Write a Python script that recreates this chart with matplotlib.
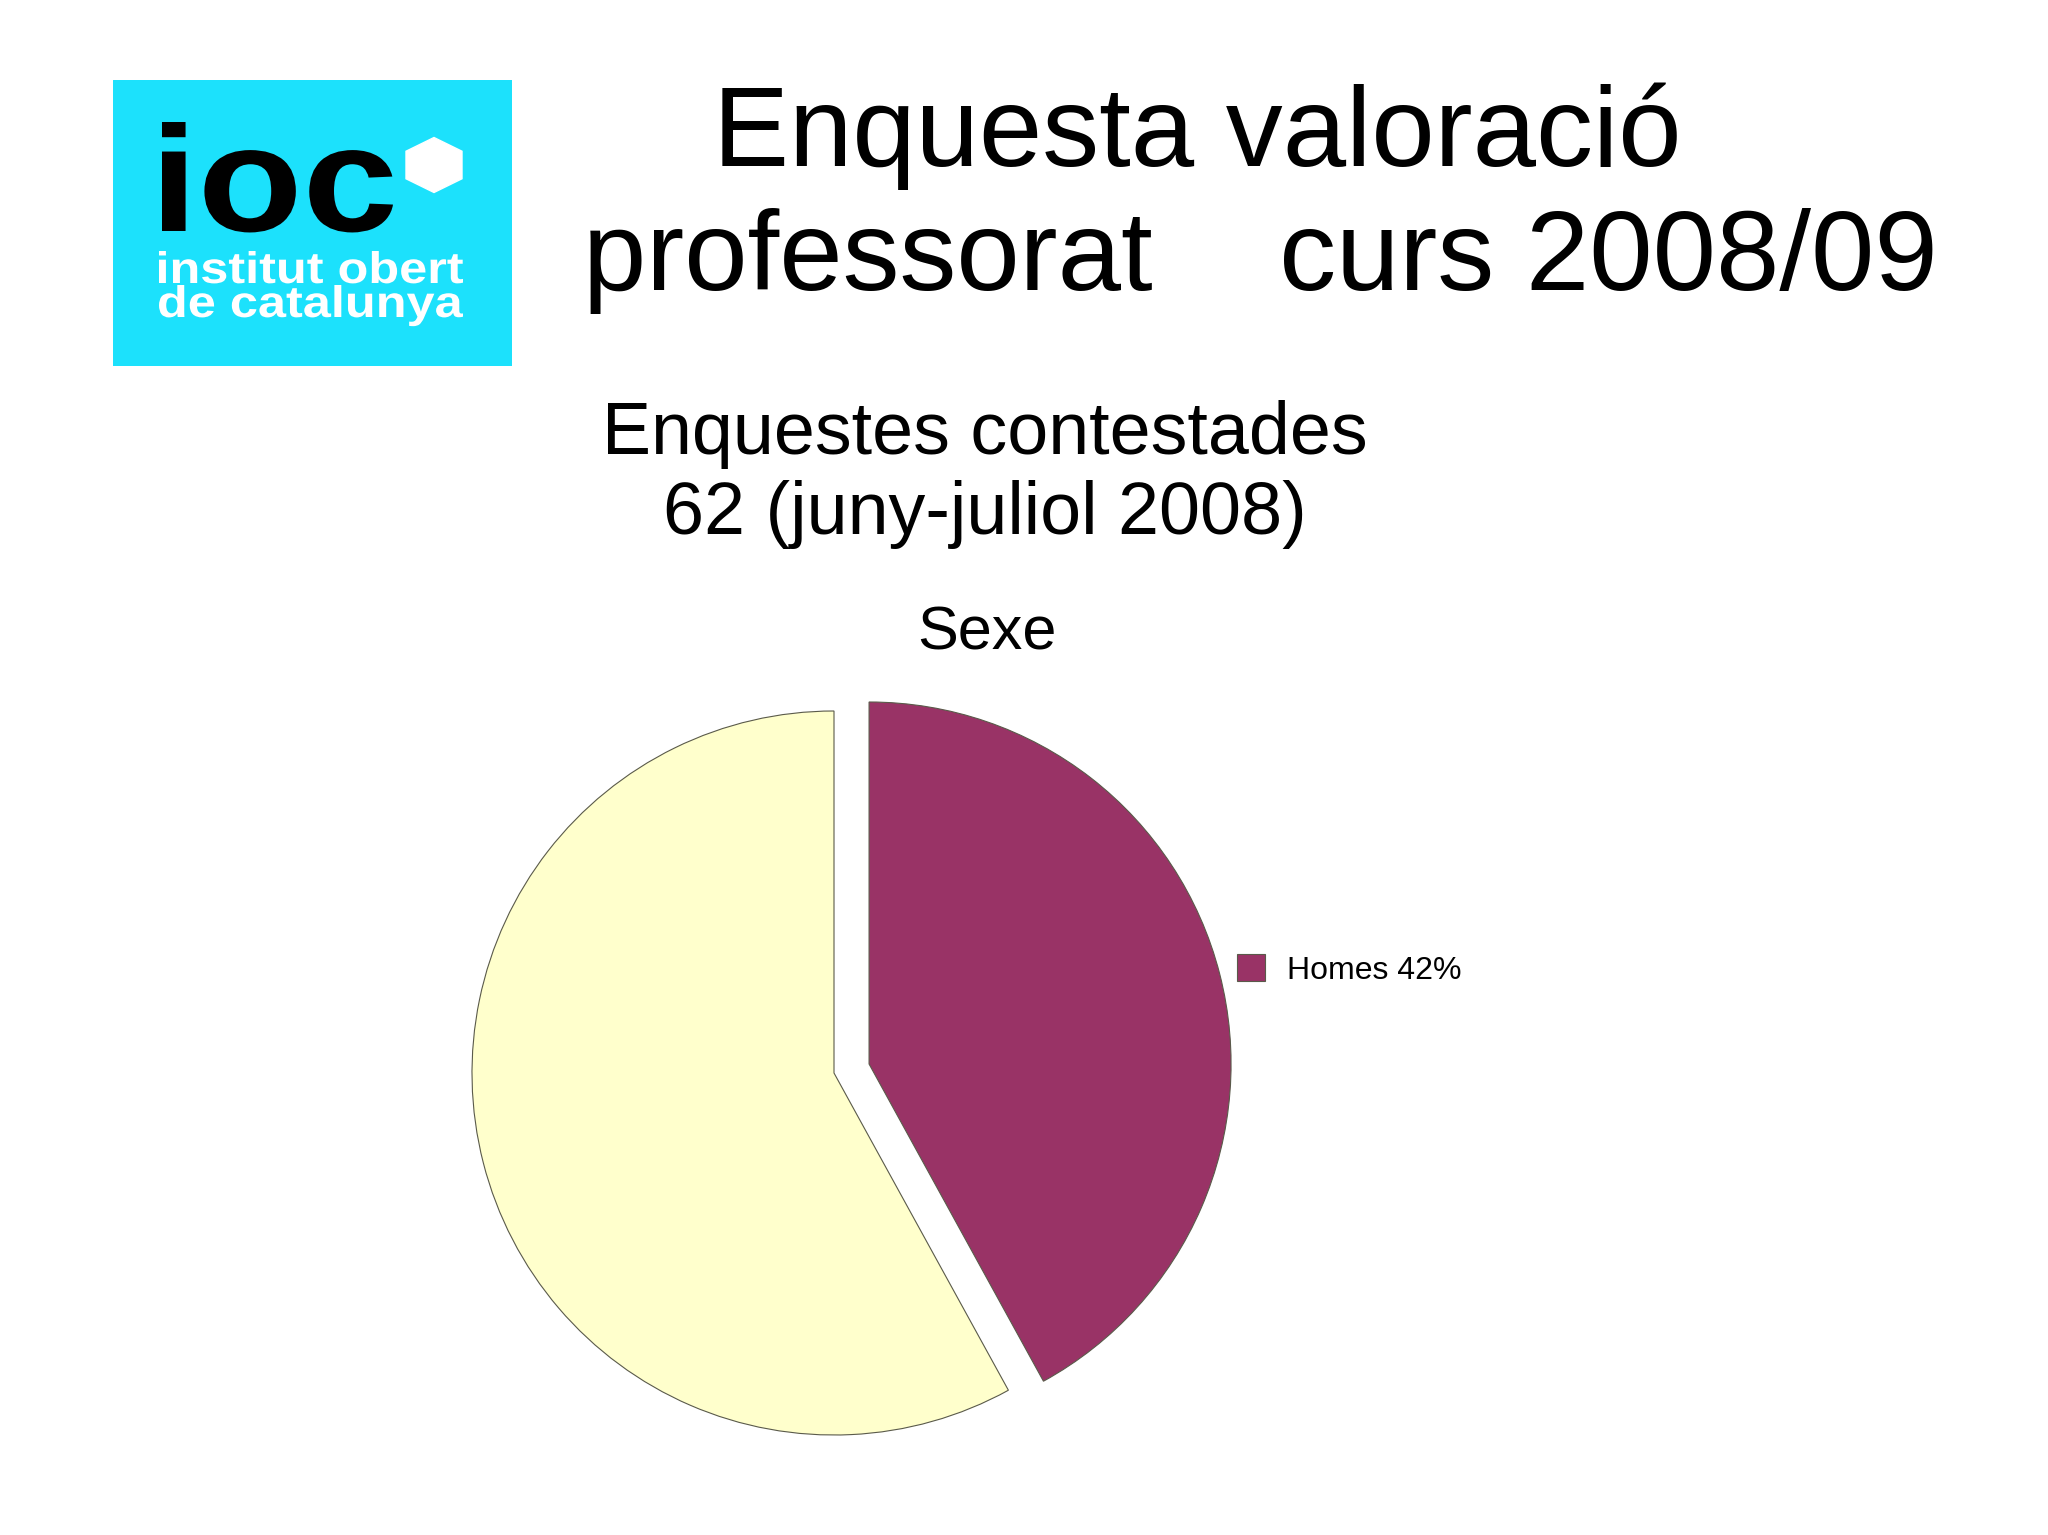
import matplotlib
matplotlib.use("Agg")
import matplotlib.pyplot as plt
from matplotlib.patches import Rectangle, Polygon, PathPatch
from matplotlib.textpath import TextPath
from matplotlib.font_manager import FontProperties
from matplotlib.transforms import Affine2D

plt.rcParams['font.family'] = ['Liberation Sans', 'DejaVu Sans']

# Data
categories = ["Homes", "Dones"]
percentages = [42, 58]
slice_colors = ["#993366", "#FFFFCC"]
explode = [0.1, 0]

title_lines = ["Enquesta valoració", "professorat    curs 2008/09"]
subtitle_lines = ["Enquestes contestades", "62 (juny-juliol 2008)"]
chart_title = "Sexe"

W, H = 2048, 1535
fig = plt.figure(figsize=(W / 100, H / 100), dpi=100)
fig.patch.set_facecolor("white")


def fx(x):
    return x / W


def fy(y):
    return 1 - y / H


def logo_text(ax, s, left, baseline, width, height, color):
    # stretch a bold text path into the box the logo uses
    tp = TextPath((0, 0), s, size=1, prop=FontProperties(family="Liberation Sans", weight="bold"))
    ext = tp.get_extents()
    sx = width / ext.width
    sy = height / ext.y1
    tr = Affine2D().translate(-ext.x0, 0).scale(sx, -sy).translate(left, baseline)
    ax.add_patch(PathPatch(tr.transform_path(tp), color=color, lw=0))


# Logo box (pixel coordinates inside the box)
logo = fig.add_axes([fx(113), fy(366), (512 - 113) / W, (366 - 80) / H])
logo.set_xlim(0, 399)
logo.set_ylim(286, 0)
logo.axis("off")
logo.add_patch(Rectangle((0, 0), 399, 286, color="#1CE1FC"))
logo_text(logo, "ioc", 49, 151, 231, 109, "black")
hx, hy, hw, hh = 321, 85, 56, 55
logo.add_patch(Polygon([(hx, hy - hh / 2), (hx + hw / 2, hy - hh / 4), (hx + hw / 2, hy + hh / 4),
                        (hx, hy + hh / 2), (hx - hw / 2, hy + hh / 4), (hx - hw / 2, hy - hh / 4)],
                       closed=True, color="white"))
logo_text(logo, "institut obert", 46, 203, 304, 32, "white")
logo_text(logo, "de catalunya", 46, 237, 304, 32, "white")

# Titles
fig.text(fx(1197), fy(166), title_lines[0], fontsize=82, ha="center", va="baseline")
fig.text(fx(1260), fy(290), title_lines[1], fontsize=82, ha="center", va="baseline")
fig.text(fx(985), fy(454), subtitle_lines[0], fontsize=53, ha="center", va="baseline")
fig.text(fx(985), fy(534), subtitle_lines[1], fontsize=53, ha="center", va="baseline")
fig.text(fx(987), fy(650), chart_title, fontsize=44, ha="center", va="baseline")

# Pie
r = 362
cx, cy = 834, 1073
half = 1.25 * r
ax = fig.add_axes([fx(cx - half), fy(cy + half), 2 * half / W, 2 * half / H])
wedges, _ = ax.pie(percentages, colors=slice_colors, explode=explode, startangle=90,
                   counterclock=False,
                   wedgeprops=dict(edgecolor="#5a5a4a", linewidth=0.8))
ax.set_xlim(-1.25, 1.25)
ax.set_ylim(-1.25, 1.25)
ax.set_aspect("equal")
ax.axis("off")

# Legend only shows the first category, as in the original
labels = [f"{c} {p}%" for c, p in zip(categories, percentages)]
fig.legend([wedges[0]], [labels[0]], loc="center left",
           bbox_to_anchor=(fx(1237), fy(970)), frameon=False, fontsize=23,
           handlelength=0.88, handleheight=0.88, handletextpad=0.7,
           borderpad=0, borderaxespad=0)

fig.savefig("out.png", dpi=100)
